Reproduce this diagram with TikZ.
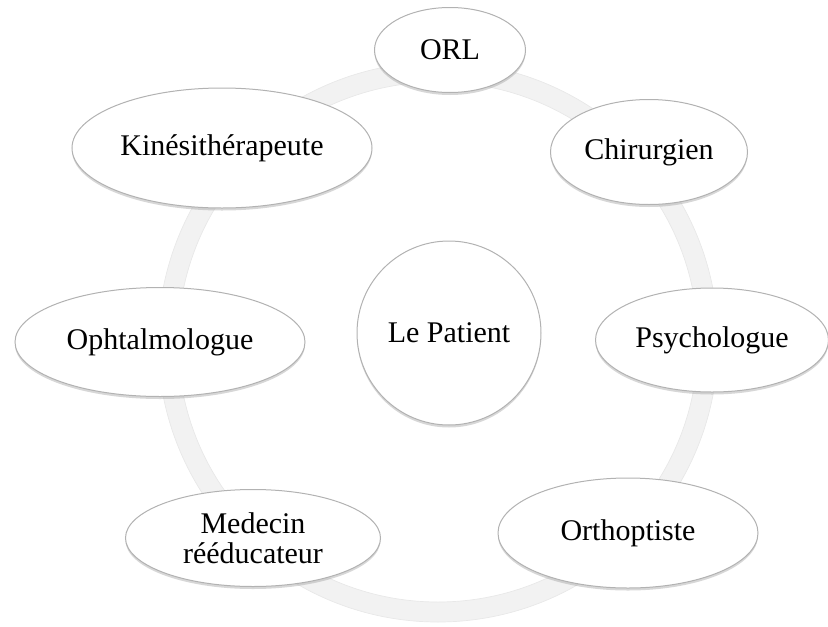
\documentclass[tikz,border=0pt]{standalone}
\usepackage{fontspec}
\setmainfont{Liberation Serif}
\usetikzlibrary{shapes.geometric, shadows}

\begin{document}
\begin{tikzpicture}[x = 1pt, y = -1pt,
  ring/.style = {draw=gray!10, line width=20pt},
  ringedge/.style = {draw=gray!18, line width=0.7pt},
  satnode/.style = {ellipse, draw=gray!60, fill=white, line width=1pt,
    inner sep=0pt, align=center, font=\fontsize{30}{30.5}\selectfont,
    drop shadow={shadow xshift=0pt, shadow yshift=-2.5pt, fill=gray!70, opacity=0.45}},
  centrenode/.style = {satnode, circle, minimum size=184pt}
]
\useasboundingbox (0,0) rectangle (828,627);

% the ring behind everything
\coordinate (ctr) at (438,342);
\draw[ring] (ctr) circle[radius=270];
\draw[ringedge] (ctr) circle[radius=280];
\draw[ringedge] (ctr) circle[radius=260];

% centre
\node[centrenode] (patient) at (449,333) {Le Patient};

% around
\node[satnode, minimum width=151pt, minimum height=85pt] (orl) at (450,50) {ORL};
\node[satnode, minimum width=197pt, minimum height=105pt] (chir) at (649,152) {Chirurgien};
\node[satnode, minimum width=233pt, minimum height=104pt] (psy) at (712,340) {Psychologue};
\node[satnode, minimum width=260pt, minimum height=110pt] (ortho) at (628,533) {Orthoptiste};
\node[satnode, minimum width=255pt, minimum height=97pt] (med) at (253,538) {Medecin\\rééducateur};
\node[satnode, minimum width=290pt, minimum height=109pt] (ophta) at (160,342) {Ophtalmologue};
\node[satnode, minimum width=300pt, minimum height=120pt] (kine) at (222,148) {Kinésithérapeute};
\end{tikzpicture}
\end{document}
